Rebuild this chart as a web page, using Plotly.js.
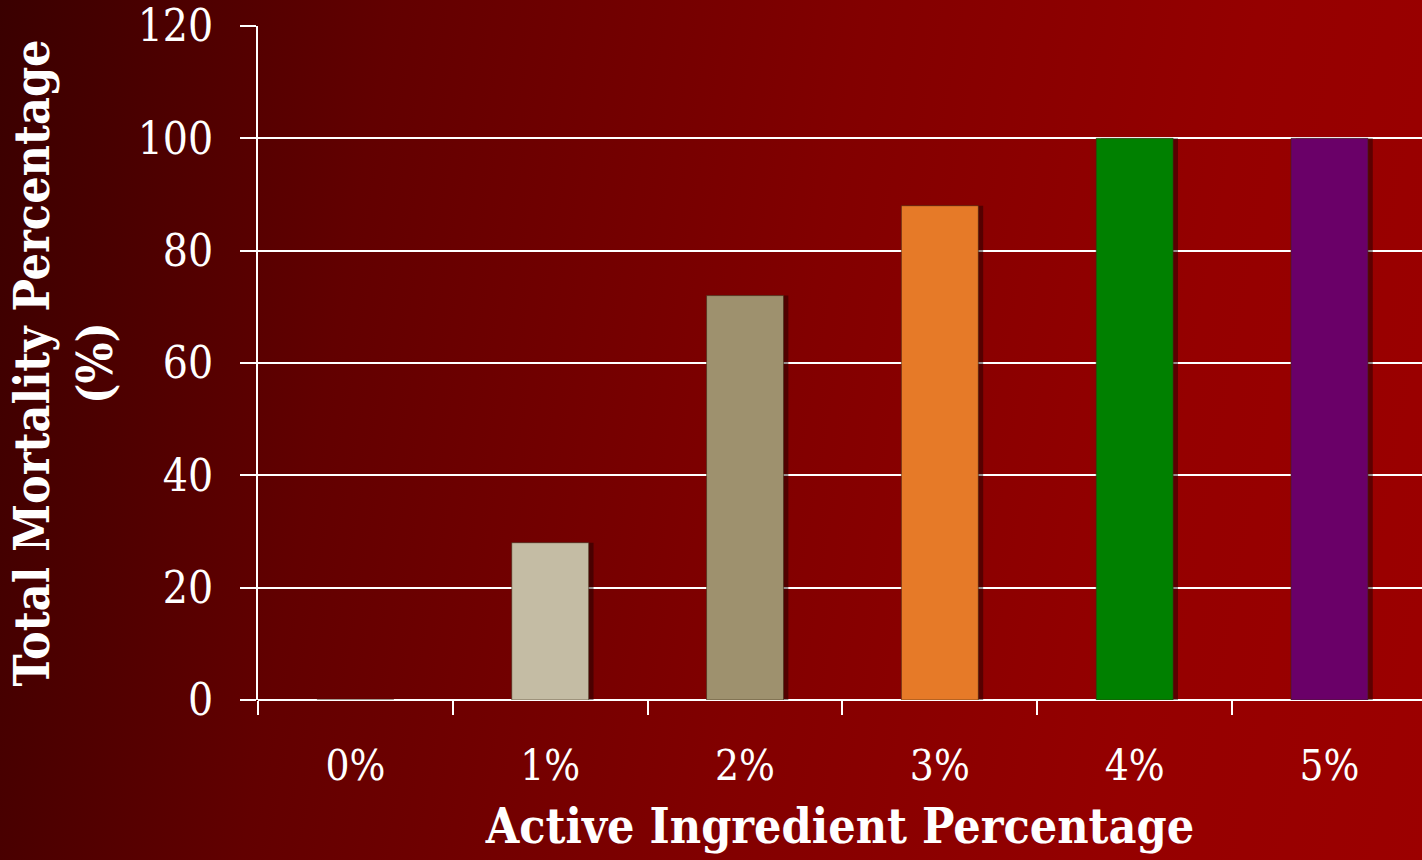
<!DOCTYPE html>
<html>
<head>
<meta charset="utf-8">
<script src="https://cdn.plot.ly/plotly-3.0.1.min.js"></script>
<style>
  html, body { margin:0; padding:0; width:1422px; height:860px; overflow:hidden;
    background: linear-gradient(100deg, #3a0000 0%, #620000 25%, #820000 55%, #950000 80%, #9c0000 100%); }
  #chart { width:1422px; height:860px; }
</style>
</head>
<body>
<div id="chart"></div>
<script>
const categories = ["0%", "1%", "2%", "3%", "4%", "5%"];
const mortality = [0, 28, 72, 88, 100, 100];
const barColors = ["#C4BCA4", "#C4BCA4", "#9E916E", "#E67A28", "#008000", "#6A0068"];
const yTicks = [0, 20, 40, 60, 80, 100, 120];

const FONT = "DejaVu Serif Condensed, DejaVu Serif, serif";
const BW = 0.395;
const shadow = {
  type: "bar", x: categories, y: mortality,
  width: BW, offset: -BW/2 + 0.025,
  marker: { color: "rgba(20,0,0,0.45)", line: { width: 0 } },
  hoverinfo: "skip", showlegend: false
};
const bars = {
  type: "bar", x: categories, y: mortality,
  width: BW, offset: -BW/2,
  marker: { color: barColors, line: { color: "rgba(60,40,20,0.55)", width: 1 } },
  showlegend: false
};

const layout = {
  width: 1422, height: 860,
  margin: { l: 258, r: 0, t: 26, b: 160 },
  paper_bgcolor: "rgba(0,0,0,0)",
  plot_bgcolor: "rgba(0,0,0,0)",
  barmode: "overlay",
  font: { family: FONT, color: "#ffffff" },
  xaxis: {
    type: "category",
    range: [-0.5, 5.475],
    tickson: "boundaries",
    ticks: "outside", ticklen: 14, tickwidth: 2, tickcolor: "#ffffff",
    ticklabelstandoff: 37,
    showline: false, showgrid: false, zeroline: false,
    tickfont: { size: 42, family: FONT, color: "#ffffff" },
    title: { text: "<b>Active Ingredient Percentage</b>", font: { size: 48, family: FONT, color: "#ffffff" }, standoff: 20 }
  },
  yaxis: {
    range: [0, 120],
    tickvals: yTicks,
    ticks: "outside", ticklen: 16, tickwidth: 2, tickcolor: "#ffffff",
    ticklabelstandoff: 18,
    showline: true, linecolor: "#ffffff", linewidth: 2,
    showgrid: true, gridcolor: "#ffffff", gridwidth: 2,
    zeroline: true, zerolinecolor: "#ffffff", zerolinewidth: 2,
    tickfont: { size: 44, family: FONT, color: "#ffffff" },
    title: { text: "<b>Total Mortality Percentage<br>(%)</b>", font: { size: 48, family: FONT, color: "#ffffff" }, standoff: 10 }
  }
};

Plotly.newPlot("chart", [shadow, bars], layout, { displayModeBar: false, staticPlot: true });
</script>
</body>
</html>
